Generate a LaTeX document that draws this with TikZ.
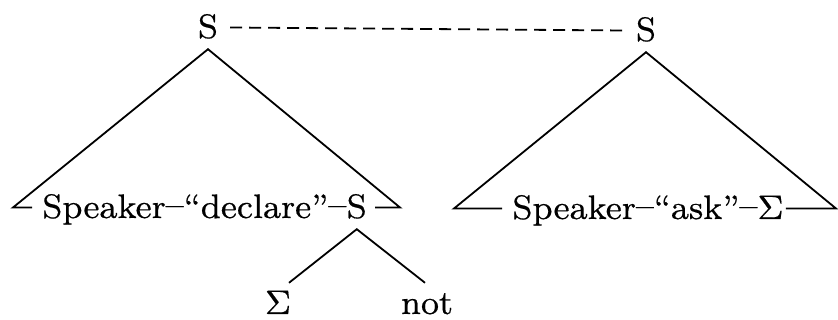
\documentclass[tikz,border=0pt]{standalone}
\usepackage{fontspec}
\setmainfont{lmroman8-regular.otf}[Ligatures=TeX, FakeBold=0.4]
\newcommand{\dsh}{\raisebox{0.07em}{--}}
\begin{document}
\begin{tikzpicture}[x=1pt,y=-1pt]
\tikzset{
  lbl/.style={font=\fontsize{34}{40}\selectfont, inner xsep=0pt, inner ysep=7pt,
              text height=25pt, text depth=4pt},
  leaf/.style={lbl, inner ysep=1pt, text depth=0pt},
  branch/.style={line width=1.8pt},
  link/.style={line width=1.8pt, dash pattern=on 12pt off 7pt}
}
\useasboundingbox (0,0) rectangle (838,320);

% the two root nodes and the dashed link between them
\node[lbl, anchor=base] (rootL) at (208,38) {S};
\node[lbl, anchor=base] (rootR) at (646,41) {S};
\draw[link] ([xshift=12pt]rootL.east) -- ([xshift=-12pt]rootR.west);

% left tree: Speaker - "declare" - S
\node[lbl, anchor=base east] (sD) at (367,218) {S};
\node[lbl, anchor=base east] (declA) at (sD.base west) {Speaker\dsh{}``declare''\dsh{}};
\coordinate (cLL) at (13,0 |- declA.west);
\coordinate (cLR) at (400,0 |- declA.west);
\draw[branch] ([xshift=-10pt]declA.west) -- (cLL) -- (rootL.south) -- (cLR) -- ([xshift=8pt]sD.east);

% right tree: Speaker - "ask" - Sigma
\node[lbl, anchor=base] (askA) at (648,219) {Speaker\dsh{}``ask''\dsh{}Σ};
\coordinate (cRL) at (454,0 |- askA.west);
\coordinate (cRR) at (836,0 |- askA.west);
\draw[branch] ([xshift=-10pt]askA.west) -- (cRL) -- (rootR.south) -- (cRR) -- ([xshift=2pt]askA.east);

% embedded S expands to Sigma and not
\node[leaf, anchor=base] (sig) at (278,314) {Σ};
\node[leaf, anchor=base] (neg) at (427,314) {not};
\draw[branch] ([xshift=11pt,yshift=5pt]sig.north) -- (sD.south) -- ([xshift=-2pt,yshift=5pt]neg.north);
\end{tikzpicture}
\end{document}
